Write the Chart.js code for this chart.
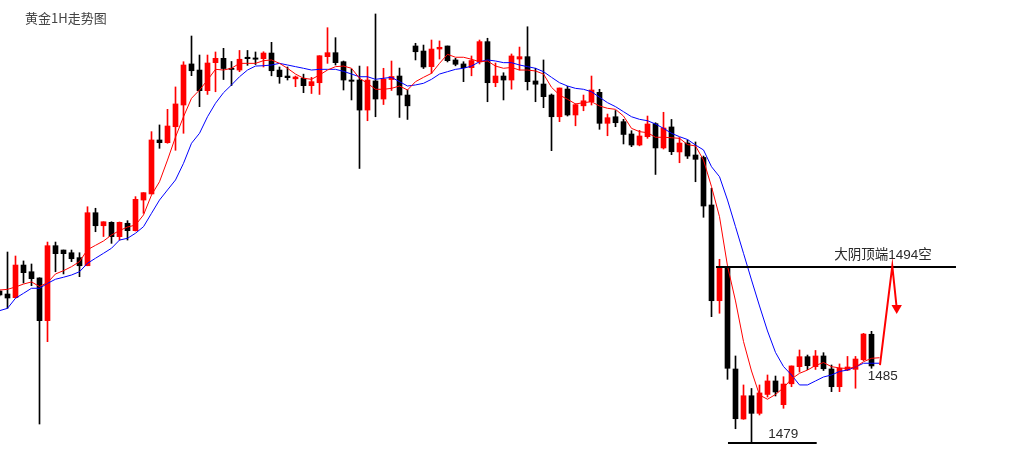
<!DOCTYPE html>
<html><head><meta charset="utf-8">
<script src="https://cdn.jsdelivr.net/npm/chart.js@4/dist/chart.umd.min.js"></script>
<style>html,body{margin:0;padding:0;background:#fff}#wrap{width:1036px;height:453px;position:relative}</style>
</head><body><div id="wrap"><canvas id="c"></canvas></div>
<script>
// ---- data (one entry per hourly candle, oldest first) ----
const opens=[1491.96,1491.70,1491.39,1494.17,1493.60,1493.07,1489.43,1495.82,1495.45,1495.22,1494.80,1494.11,1498.63,1497.52,1497.81,1496.59,1497.73,1497.10,1499.71,1500.23,1504.83,1504.60,1505.96,1507.81,1511.31,1510.79,1509.03,1511.42,1511.79,1510.94,1510.79,1511.88,1511.82,1511.76,1512.24,1510.79,1510.28,1510.04,1510.09,1509.46,1509.71,1511.93,1512.27,1511.50,1509.94,1509.94,1507.38,1509.86,1508.32,1509.98,1510.28,1508.66,1512.84,1512.41,1511.08,1512.58,1512.84,1511.65,1511.31,1510.99,1511.48,1513.21,1509.71,1510.28,1509.94,1511.73,1511.93,1509.86,1509.60,1508.66,1506.81,1509.17,1506.96,1507.74,1508.09,1508.89,1506.25,1506.81,1506.39,1505.34,1504.40,1505.11,1506.22,1504.15,1505.94,1503.81,1504.57,1503.55,1503.34,1499.29,1491.13,1494.03,1485.31,1481.05,1483.03,1481.53,1483.14,1484.29,1482.27,1484.05,1485.51,1486.36,1485.51,1486.42,1485.31,1483.80,1485.22,1485.28,1486.10,1488.27];
const highs=[1492.04,1495.28,1494.94,1494.52,1494.26,1493.09,1496.13,1496.13,1495.45,1495.45,1495.22,1499.14,1499.01,1497.86,1497.86,1497.84,1497.95,1500.00,1500.34,1505.54,1506.11,1507.44,1509.35,1511.50,1513.69,1512.07,1512.07,1512.33,1512.64,1511.52,1512.46,1512.46,1512.33,1512.35,1513.15,1511.05,1511.05,1510.28,1510.44,1510.17,1512.01,1514.40,1513.55,1511.56,1510.88,1511.13,1511.08,1515.57,1510.94,1511.56,1510.96,1509.09,1513.07,1512.92,1513.35,1513.27,1512.84,1511.79,1511.50,1511.99,1513.35,1513.50,1511.39,1510.56,1512.16,1512.75,1514.48,1510.94,1511.65,1508.75,1509.26,1509.40,1507.92,1508.66,1510.28,1509.15,1507.04,1507.34,1506.59,1505.62,1505.65,1506.87,1506.30,1507.19,1506.58,1505.04,1504.83,1504.66,1503.46,1500.71,1494.66,1494.03,1486.42,1483.95,1483.65,1483.95,1484.80,1484.71,1484.65,1485.57,1486.93,1486.50,1486.89,1486.70,1485.65,1485.74,1486.38,1486.38,1488.35,1488.52];
const lows=[1491.53,1490.48,1491.36,1492.64,1492.41,1480.62,1487.64,1493.60,1493.41,1494.46,1493.18,1494.11,1497.01,1496.60,1496.02,1496.30,1496.30,1497.07,1498.58,1500.23,1504.12,1504.55,1503.95,1505.40,1510.31,1507.67,1508.71,1508.94,1509.98,1509.47,1510.65,1511.19,1511.26,1511.05,1510.30,1509.66,1509.94,1509.37,1508.86,1508.79,1508.71,1511.36,1511.22,1509.09,1508.24,1502.40,1506.47,1506.81,1507.85,1509.05,1506.75,1506.58,1511.65,1510.92,1510.51,1511.73,1511.48,1511.15,1509.80,1510.30,1511.31,1508.09,1509.37,1508.24,1509.16,1510.79,1509.09,1508.09,1507.58,1503.92,1506.39,1506.87,1506.04,1507.32,1507.81,1505.74,1505.19,1505.96,1504.49,1504.26,1504.33,1504.97,1501.89,1504.06,1503.58,1502.89,1503.25,1501.27,1498.24,1489.77,1490.06,1484.43,1480.22,1481.02,1479.00,1481.39,1482.92,1483.01,1481.96,1483.80,1485.05,1485.25,1485.27,1485.18,1483.38,1483.38,1485.17,1483.67,1486.02,1485.37];
const closes=[1491.62,1491.36,1494.17,1493.52,1493.01,1489.43,1495.82,1495.14,1495.14,1494.71,1494.11,1498.63,1497.52,1497.86,1496.59,1497.81,1497.10,1499.77,1500.34,1504.83,1504.60,1506.02,1507.90,1511.22,1510.73,1509.03,1511.39,1511.79,1510.92,1510.84,1511.71,1511.76,1511.71,1512.24,1510.73,1510.22,1510.14,1510.20,1509.46,1509.80,1512.01,1512.27,1511.42,1509.94,1509.83,1507.38,1509.94,1508.32,1510.03,1510.24,1508.66,1507.74,1512.35,1511.05,1512.58,1512.73,1511.59,1511.28,1510.99,1511.60,1513.21,1509.71,1510.28,1509.94,1511.99,1511.93,1509.80,1509.58,1508.52,1506.81,1509.26,1506.96,1507.84,1508.17,1509.09,1506.25,1506.73,1506.30,1505.30,1504.40,1505.17,1506.19,1504.15,1505.85,1503.83,1504.57,1503.46,1503.18,1499.20,1491.13,1493.98,1485.37,1481.07,1483.03,1481.53,1483.27,1484.29,1483.35,1484.03,1485.57,1486.36,1485.59,1486.42,1485.33,1483.80,1485.37,1485.48,1486.16,1488.29,1485.57];
const maShort=[1492.04,1492.10,1492.30,1492.55,1492.73,1492.34,1492.67,1493.41,1493.69,1494.03,1494.46,1495.48,1495.85,1496.22,1496.73,1497.11,1497.41,1497.58,1498.44,1500.14,1501.27,1503.12,1505.08,1506.81,1508.38,1509.09,1509.94,1510.85,1510.79,1510.94,1511.36,1511.36,1511.36,1511.59,1511.65,1511.36,1510.94,1510.45,1510.09,1510.00,1510.37,1510.79,1511.08,1511.13,1510.94,1510.09,1509.66,1509.15,1509.15,1509.23,1509.43,1509.09,1509.80,1510.17,1510.51,1511.36,1512.13,1511.88,1511.88,1511.71,1511.50,1511.56,1511.13,1510.94,1511.01,1510.79,1510.79,1510.71,1510.45,1509.32,1508.66,1508.30,1507.90,1508.01,1508.09,1507.73,1507.53,1507.44,1506.87,1505.82,1505.54,1505.45,1505.06,1505.06,1505.02,1504.97,1504.44,1504.32,1503.12,1500.85,1498.29,1494.09,1491.11,1487.65,1485.14,1483.09,1482.73,1483.14,1483.71,1484.46,1484.94,1485.22,1485.61,1485.86,1485.51,1485.40,1485.35,1485.48,1485.93,1486.22,1486.27];
const maLong=[1490.28,1490.48,1491.34,1491.76,1492.19,1492.19,1492.61,1492.96,1493.13,1493.32,1493.60,1494.32,1494.75,1495.17,1495.60,1496.30,1496.45,1496.88,1497.44,1498.58,1499.71,1500.57,1501.42,1502.84,1504.55,1505.40,1506.81,1507.96,1508.86,1509.52,1510.22,1510.79,1511.13,1511.16,1511.22,1511.36,1511.22,1511.08,1510.94,1510.79,1510.85,1510.85,1510.85,1510.68,1510.45,1510.22,1510.22,1510.00,1510.09,1510.17,1509.80,1509.43,1509.52,1509.66,1510.00,1510.45,1510.65,1510.85,1510.94,1511.13,1511.50,1511.65,1511.56,1511.42,1511.42,1511.22,1511.08,1510.94,1510.65,1510.17,1509.71,1509.43,1509.23,1509.15,1508.94,1508.47,1508.01,1507.67,1507.24,1506.81,1506.59,1506.47,1506.19,1505.82,1505.40,1505.11,1504.87,1504.40,1503.98,1502.55,1501.70,1499.71,1497.44,1495.17,1492.90,1490.68,1488.55,1486.72,1485.52,1484.80,1483.95,1483.95,1484.29,1484.63,1484.80,1485.10,1485.22,1485.48,1485.80,1485.80,1485.80];
// annotations (candle-index positions, prices)
const resistanceLine={price:1494,from:89.56,to:119.56};
const supportLine={price:1479,from:91.06,to:102.15};
const arrowX=[110.06,111.6,112.15];
const arrowY=[1485.65,1494.09,1490.51];
const titleText='黄金1H走势图';
const notes=[
  {text:'大阴顶端1494空',x:110.44,price:1494,dy:-11.5,align:'center'},
  {text:'1485',x:108.53,price:1485,dy:3.5,align:'left'},
  {text:'1479',x:96.1,price:1479,dy:-8.3,align:'left'}
];

const UP='#ff0000', DOWN='#000000';
const idx=opens.map((_,i)=>i);
const colors=idx.map(i=>closes[i]>=opens[i]?UP:DOWN);
const wickData=idx.map(i=>({x:i,y:[lows[i],highs[i]]}));
const bodyData=idx.map(i=>({x:i,y:[opens[i],closes[i]]}));
const lineData=a=>a.map((v,i)=>({x:i,y:v}));

const textPlugin={id:'texts',afterDatasetsDraw(chart){
  const ctx=chart.ctx,xs=chart.scales.x,ys=chart.scales.y;
  ctx.save();
  ctx.fillStyle='#444';
  ctx.textBaseline='middle';
  ctx.font='13px "Noto Sans CJK SC"';
  ctx.textAlign='left';
  ctx.fillText(titleText,25,18.5);
  ctx.fillStyle='#2a2a2a';
  ctx.font='13.5px "Liberation Sans","Noto Sans CJK SC"';
  notes.forEach(n=>{
    ctx.textAlign=n.align;
    ctx.fillText(n.text,xs.getPixelForValue(n.x),ys.getPixelForValue(n.price)+n.dy);
  });
  ctx.restore();
}};

new Chart(document.getElementById('c'),{
  type:'bar',
  data:{datasets:[
    {type:'line',data:arrowX.map((x,i)=>({x,y:arrowY[i]})),borderColor:UP,borderWidth:2,
     pointRadius:[0,0,6],pointStyle:'triangle',pointRotation:180,pointBackgroundColor:UP,pointBorderWidth:0,order:0},
    {type:'line',data:[{x:resistanceLine.from,y:resistanceLine.price},{x:resistanceLine.to,y:resistanceLine.price}],borderColor:'#000',borderWidth:2,pointRadius:0,order:1},
    {type:'line',data:[{x:supportLine.from,y:supportLine.price},{x:supportLine.to,y:supportLine.price}],borderColor:'#000',borderWidth:2,pointRadius:0,order:1},
    {type:'line',data:lineData(maShort),borderColor:'#ff0000',borderWidth:1,pointRadius:0,tension:0,order:2},
    {type:'line',data:lineData(maLong),borderColor:'#0000ff',borderWidth:1,pointRadius:0,tension:0,order:2},
    {data:bodyData,backgroundColor:colors,borderWidth:0,barThickness:5,grouped:false,minBarLength:1,order:3},
    {data:wickData,backgroundColor:colors,borderWidth:0,barThickness:1,grouped:false,minBarLength:1,order:4}
  ]},
  options:{
    animation:false,responsive:true,maintainAspectRatio:false,devicePixelRatio:1,
    layout:{padding:0,autoPadding:false},
    plugins:{legend:{display:false},tooltip:{enabled:false},title:{display:false}},
    scales:{
      x:{type:'linear',min:0.0625,max:129.5625,display:false,offset:false,bounds:'data'},
      y:{type:'linear',min:1478.15,max:1516.76,display:false,beginAtZero:false,bounds:'data'}
    }
  },
  plugins:[textPlugin]
});
</script></body></html>
